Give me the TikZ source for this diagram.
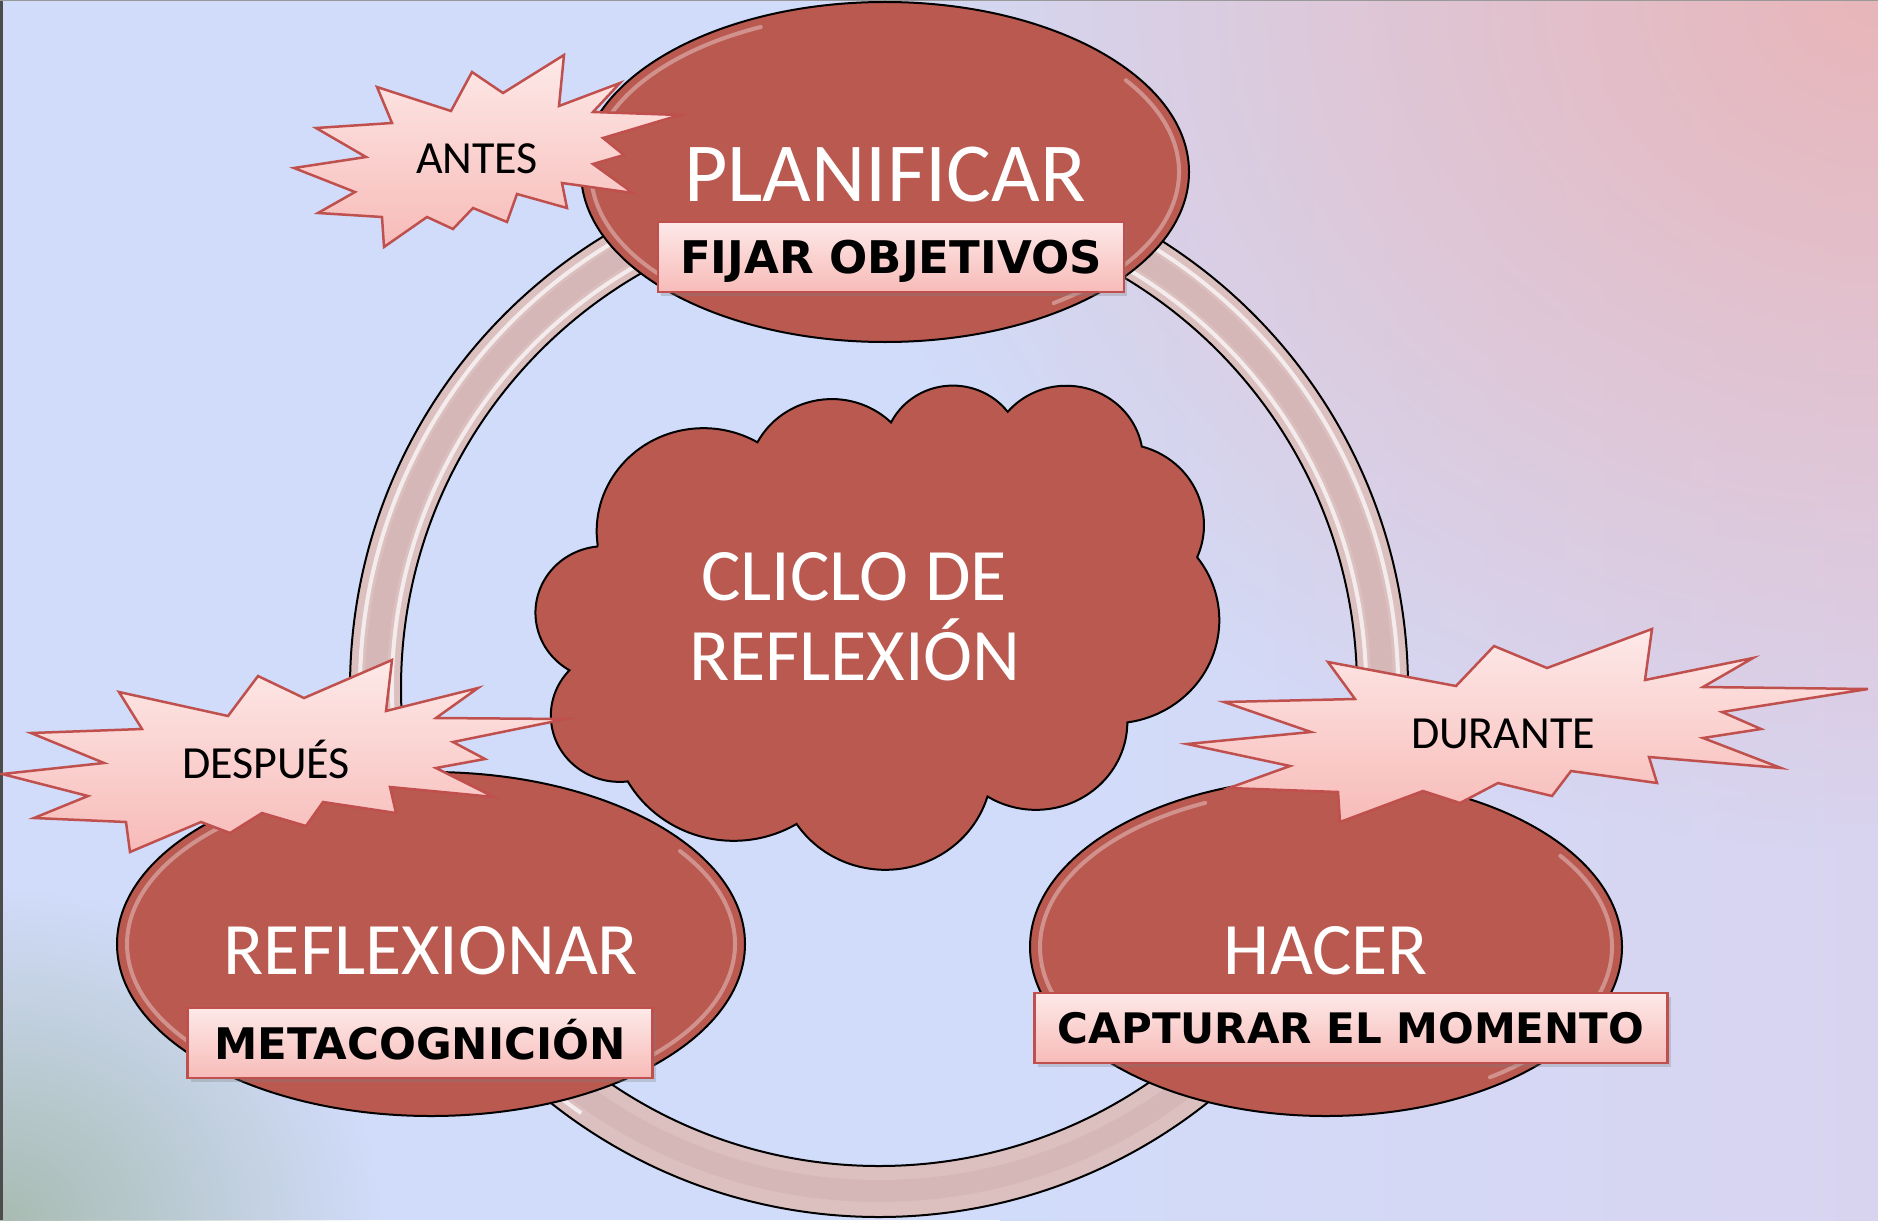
\documentclass[tikz,border=0pt]{standalone}
\usepackage{fontspec}
\setmainfont{Carlito}
\newfontfamily\handfont{DejaVu Sans}
\usetikzlibrary{shapes.geometric,shadows,fadings}
\definecolor{bgblue}{RGB}{209,220,250}
\definecolor{bglav}{RGB}{216,212,240}
\definecolor{bgpink}{RGB}{232,182,186}
\definecolor{bggreen}{RGB}{168,188,178}
\definecolor{shapered}{RGB}{185,89,80}
\definecolor{ringpink}{RGB}{220,192,192}
\definecolor{ringdark}{RGB}{214,183,184}
\definecolor{starline}{RGB}{192,80,77}
\definecolor{startop}{RGB}{253,233,232}
\definecolor{starbot}{RGB}{247,187,184}
\tikzfading[name=radfade, inner color=transparent!0, outer color=transparent!100]
\begin{document}
\begin{tikzpicture}[x=1pt, y=-1pt,
  bigshape/.style={fill=shapered, draw=black, line width=2pt},
  ell/.style={bigshape, ellipse, inner sep=0pt, outer sep=0pt},
  rim/.style={white, opacity=0.35, line width=4pt, line cap=round},
  burst/.style={top color=startop, bottom color=starbot, draw=starline, line width=2.5pt, line join=miter},
  labelbox/.style={top color=startop, bottom color=starbot, draw=starline, line width=2.5pt,
     inner sep=0pt, text=black, text depth=0pt,
     drop shadow={shadow xshift=3pt, shadow yshift=-4pt, opacity=0.3}},
  mainlabel/.style={text=white, inner sep=0pt, anchor=base},
  starlabel/.style={text=black, inner sep=0pt, anchor=base, font=\fontsize{46}{50}\selectfont}]
\useasboundingbox (0,0) rectangle (1878,1220);
% background
\fill[bgblue] (0,0) rectangle (1878,1220);
\shade[left color=bgblue, right color=bglav] (1000,0) rectangle (1878,1220);
\begin{scope}
  \clip (0,0) rectangle (1878,1220);
  \fill[bgpink, path fading=radfade] (1878,0) ellipse [x radius=1050, y radius=850];
  \fill[bggreen, path fading=radfade] (0,1220) ellipse [x radius=380, y radius=330];
\end{scope}
\draw[black!70, line width=3pt] (1.5,0) -- (1.5,1220);
\draw[black!40, line width=1.5pt] (0,0.75) -- (1878,0.75);
% ring
\coordinate (rc) at (879,688);
\fill[ringpink, even odd rule] (rc) circle [radius=529] (rc) circle [radius=478];
\draw[ringdark, line width=22pt] (rc) circle [radius=503];
\draw[white, opacity=0.7, line width=4pt] (rc) ++(125:487) arc [start angle=125, end angle=250, radius=487];
\draw[white, opacity=0.7, line width=4pt] (rc) ++(125:519) arc [start angle=125, end angle=250, radius=519];
\draw[white, opacity=0.7, line width=4pt] (rc) ++(-70:487) arc [start angle=-70, end angle=50, radius=487];
\draw[white, opacity=0.7, line width=4pt] (rc) ++(-70:519) arc [start angle=-70, end angle=50, radius=519];
\draw[black, line width=2pt] (rc) circle [radius=529];
\draw[black, line width=2pt] (rc) circle [radius=478];
% cloud
\begin{scope}[shift={(536,384)}, xscale=683/432, yscale=484/432]
\path[bigshape] (39,143.7)
 arc[start angle=-187.745, end angle=-59.637, x radius=67.53, y radius=91.90]
 arc[start angle=-152.025, end angle=-45.432, x radius=53.33, y radius=72.67]
 arc[start angle=-153.489, end angle=-37.306, x radius=43.65, y radius=59.45]
 arc[start angle=-139.705, end angle=-10.213, x radius=48.57, y radius=65.95]
 arc[start angle=-74.765, end angle=23.21, x radius=53.33, y radius=72.73]
 arc[start angle=-37.521, end angle=81.863, x radius=67.75, y radius=92.20]
 arc[start angle=0.460, end angle=121.969, x radius=57.85, y radius=78.67]
 arc[start angle=16.843, end angle=146.238, x radius=67.52, y radius=92.15]
 arc[start angle=58.986, end angle=150.19, x radius=77.20, y radius=105.43]
 arc[start angle=-276.694, end angle=-136.888, x radius=43.60, y radius=59.18]
 arc[start angle=-239.645, end angle=-95.888, x radius=43.45, y radius=59.45]
 -- cycle;
\end{scope}
% ellipses
\node[ell, minimum width=608pt, minimum height=340pt] (plan) at (885,172) {};
\node[ell, minimum width=628pt, minimum height=344pt] (refl) at (431,944) {};
\node[ell, minimum width=592pt, minimum height=338pt] (hacer) at (1326,947) {};
\draw[rim] (885,172) ++(140:294 and 160) arc[start angle=140, end angle=245, x radius=294, y radius=160];
\draw[rim] (885,172) ++(-35:294 and 160) arc[start angle=-35, end angle=55, x radius=294, y radius=160];
\draw[rim] (431,944) ++(140:304 and 162) arc[start angle=140, end angle=245, x radius=304, y radius=162];
\draw[rim] (431,944) ++(-35:304 and 162) arc[start angle=-35, end angle=55, x radius=304, y radius=162];
\draw[rim] (1326,947) ++(140:286 and 159) arc[start angle=140, end angle=245, x radius=286, y radius=159];
\draw[rim] (1326,947) ++(-35:286 and 159) arc[start angle=-35, end angle=55, x radius=286, y radius=159];
% label boxes
\node[labelbox, minimum width=466pt, minimum height=70pt, text height=33pt,
      font=\handfont\bfseries\fontsize{45}{50}\selectfont] (fijar) at (891,257) {FIJAR OBJETIVOS};
\node[labelbox, minimum width=633pt, minimum height=70pt, text height=31pt,
      font=\handfont\bfseries\fontsize{42}{48}\selectfont] (captura) at (1351,1028) {CAPTURAR EL MOMENTO};
\node[labelbox, minimum width=465pt, minimum height=70pt, text height=32pt,
      font=\handfont\bfseries\fontsize{43.5}{48}\selectfont] (meta) at (420,1043) {METACOGNICIÓN};
% bursts
\draw[burst] (294,168) -- (366,157) -- (316,128) -- (392,123) -- (377,87) -- (451,111) -- (472,72) -- (503,93) -- (564,55) -- (559,106) -- (620,83) -- (593,112) -- (680,115) -- (603,138) -- (624,155) -- (593,164) -- (633,193) -- (562,183) -- (567,208) -- (517,194) -- (507,222) -- (473,208) -- (453,229) -- (427,217) -- (384,247) -- (382,217) -- (318,213) -- (355,192) -- cycle;
\draw[burst] (1187,744) -- (1311,732) -- (1224,702) -- (1355,699) -- (1328,662) -- (1456,686) -- (1494,646) -- (1547,668) -- (1652,629) -- (1645,680) -- (1753,658) -- (1703,687) -- (1868,689) -- (1722,712) -- (1761,729) -- (1703,738) -- (1781,768) -- (1649,757) -- (1657,783) -- (1571,771) -- (1552,796) -- (1498,783) -- (1460,803) -- (1423,791) -- (1340,822) -- (1338,792) -- (1229,788) -- (1290,766) -- cycle;
\draw[burst] (2,774) -- (104,763) -- (31,733) -- (142,729) -- (119,692) -- (228,716) -- (258,676) -- (304,698) -- (392,660) -- (386,711) -- (478,688) -- (436,718) -- (566,719) -- (453,742) -- (485,759) -- (436,768) -- (494,797) -- (390,787) -- (396,813) -- (323,802) -- (306,826) -- (262,813) -- (230,833) -- (201,822) -- (130,852) -- (126,822) -- (34,818) -- (88,796) -- cycle;
% texts
\node[mainlabel, font=\fontsize{84}{90}\selectfont] (tplan) at (885,201) {PLANIFICAR};
\node[mainlabel, font=\fontsize{74}{80}\selectfont] (trefl) at (431,974) {REFLEXIONAR};
\node[mainlabel, font=\fontsize{74}{80}\selectfont] (thacer) at (1326,974) {HACER};
\node[mainlabel, font=\fontsize{74}{80}\selectfont] (tciclo1) at (854,600) {CLICLO DE};
\node[mainlabel, font=\fontsize{74}{80}\selectfont] (tciclo2) at (855,680) {REFLEXIÓN};
\node[starlabel] (antes) at (477,173) {ANTES};
\node[starlabel] (despues) at (266,778) {DESPUÉS};
\node[starlabel] (durante) at (1503,748) {DURANTE};
\end{tikzpicture}
\end{document}
